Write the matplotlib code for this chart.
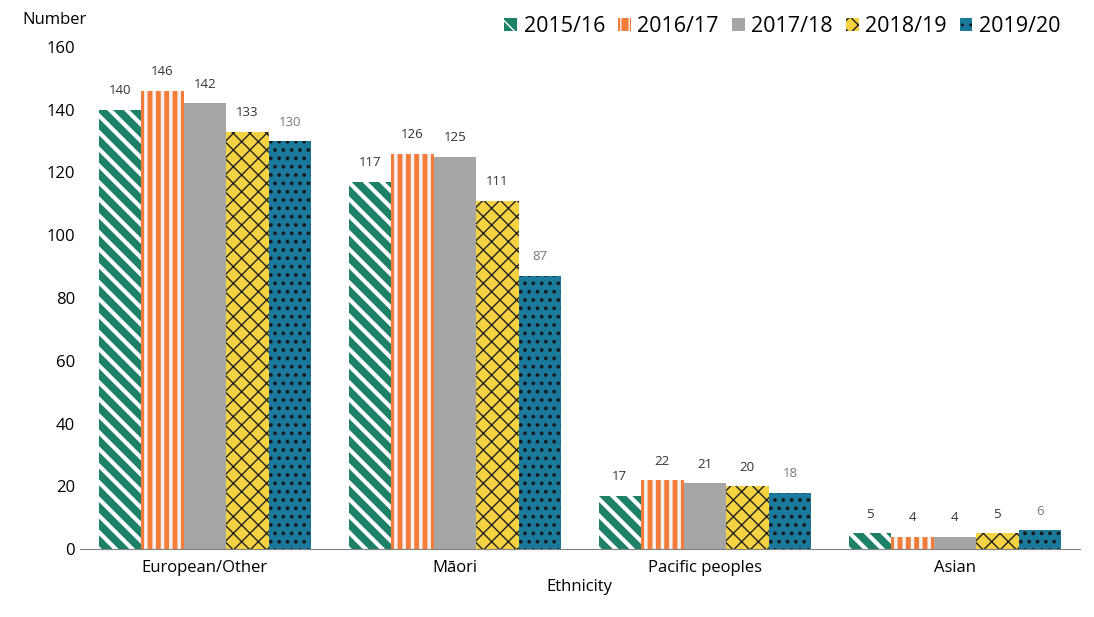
import matplotlib.pyplot as plt
import matplotlib as mpl
import numpy as np

plt.rcParams['font.family'] = ['Open Sans', 'DejaVu Sans']

categories = ['European/Other', 'Māori', 'Pacific peoples', 'Asian']
years = ['2015/16', '2016/17', '2017/18', '2018/19', '2019/20']
v2015 = [140, 117, 17, 5]
v2016 = [146, 126, 22, 4]
v2017 = [142, 125, 21, 4]
v2018 = [133, 111, 20, 5]
v2019 = [130, 87, 18, 6]
values = [v2015, v2016, v2017, v2018, v2019]

# face, hatch, hatch colour, hatch linewidth
styles = [
    ('#1e8066', '\\\\', 'white', 3.0),
    ('#f47c3a', '||', '#f2f2f2', 2.5),
    ('#a6a6a6', '', '#a6a6a6', 1.0),
    ('#f5d242', 'xx', '#222222', 1.0),
    ('#1b7a9b', '..', '#1a1a1a', 1.5),
]
label_colors = ['#333333'] * 4 + ['#777777']

fig = plt.figure(figsize=(10.94, 6.17), dpi=100)
ax = fig.add_axes([0.073, 0.11, 0.914, 0.814])

x = np.arange(len(categories))
width = 0.17
for i, (year, vals) in enumerate(zip(years, values)):
    face, hatch, hc, hlw = styles[i]
    with mpl.rc_context({'hatch.linewidth': hlw}):
        bars = ax.bar(x + (i - 2) * width, vals, width, color=face, hatch=hatch,
                      edgecolor=hc, linewidth=0, label=year)
    for b, v in zip(bars, vals):
        ax.text(b.get_x() + b.get_width() / 2, v + 4, str(v), ha='center', va='bottom',
                fontsize=9.5, color=label_colors[i])

ax.set_xlim(-0.5, 3.5)
ax.set_ylim(0, 160)
ax.set_yticks(range(0, 161, 20))
ax.set_xticks(x)
ax.set_xticklabels(categories, fontsize=12)
ax.tick_params(axis='y', labelsize=12, length=0)
ax.tick_params(axis='x', length=0, pad=8)
for s in ['top', 'right', 'left']:
    ax.spines[s].set_visible(False)
ax.spines['bottom'].set_color('#808080')
ax.set_xlabel('Ethnicity', fontsize=12, labelpad=2)
fig.text(0.02, 0.955, 'Number', fontsize=12, ha='left', va='bottom')

ax.legend(loc='upper right', bbox_to_anchor=(1.0, 1.1), ncol=5, frameon=False, fontsize=15.5,
          handlelength=0.6, handleheight=0.6, handletextpad=0.3, columnspacing=0.6)

fig.savefig('out.png', dpi=100)
